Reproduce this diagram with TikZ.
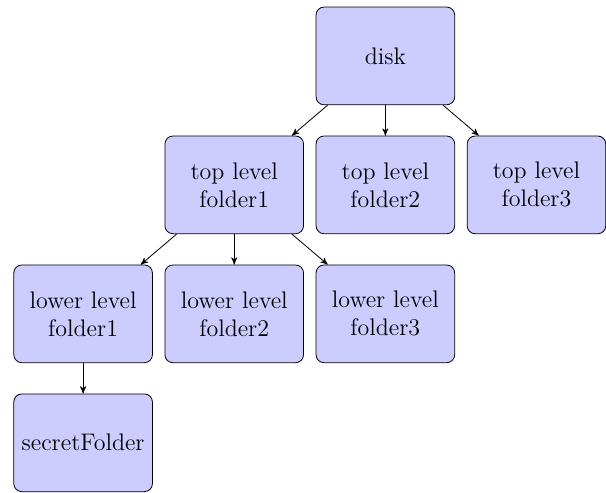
\documentclass[tikz,border=0pt]{standalone}
\usepackage{tikz}
\usetikzlibrary{arrows}
\usetikzlibrary{positioning,shapes}

\begin{document}
\begin{tikzpicture} [->,>=stealth',node distance=2.27cm,
  folder/.style={rectangle,rounded corners,draw,fill=blue!20,
    minimum width=2.44cm,minimum height=1.72cm,align=center,font=\large}]

  \useasboundingbox (-193pt,28pt) rectangle (110.5pt,-218.5pt);

  \node[folder] (disk) {disk};
  \node[folder] (top2) [below of=disk] {top level\\folder2};
  \node[folder] (top1) [node distance=2.66cm, left of=top2] {top level\\folder1};
  \node[folder] (top3) [node distance=2.66cm, right of=top2] {top level\\folder3};

  \node[folder] (low2) [below of=top1] {lower level\\folder2};
  \node[folder] (low1) [node distance=2.66cm, left of=low2] {lower level\\folder1};
  \node[folder] (low3) [node distance=2.66cm, right of=low2] {lower level\\folder3};

  \node[folder] (secret) [below of=low1] {secretFolder};

  \path
    (disk) edge (top1)
           edge (top2)
           edge (top3)
    (top1) edge (low1)
           edge (low2)
           edge (low3)
    (low1) edge (secret);

\end{tikzpicture}
\end{document}
